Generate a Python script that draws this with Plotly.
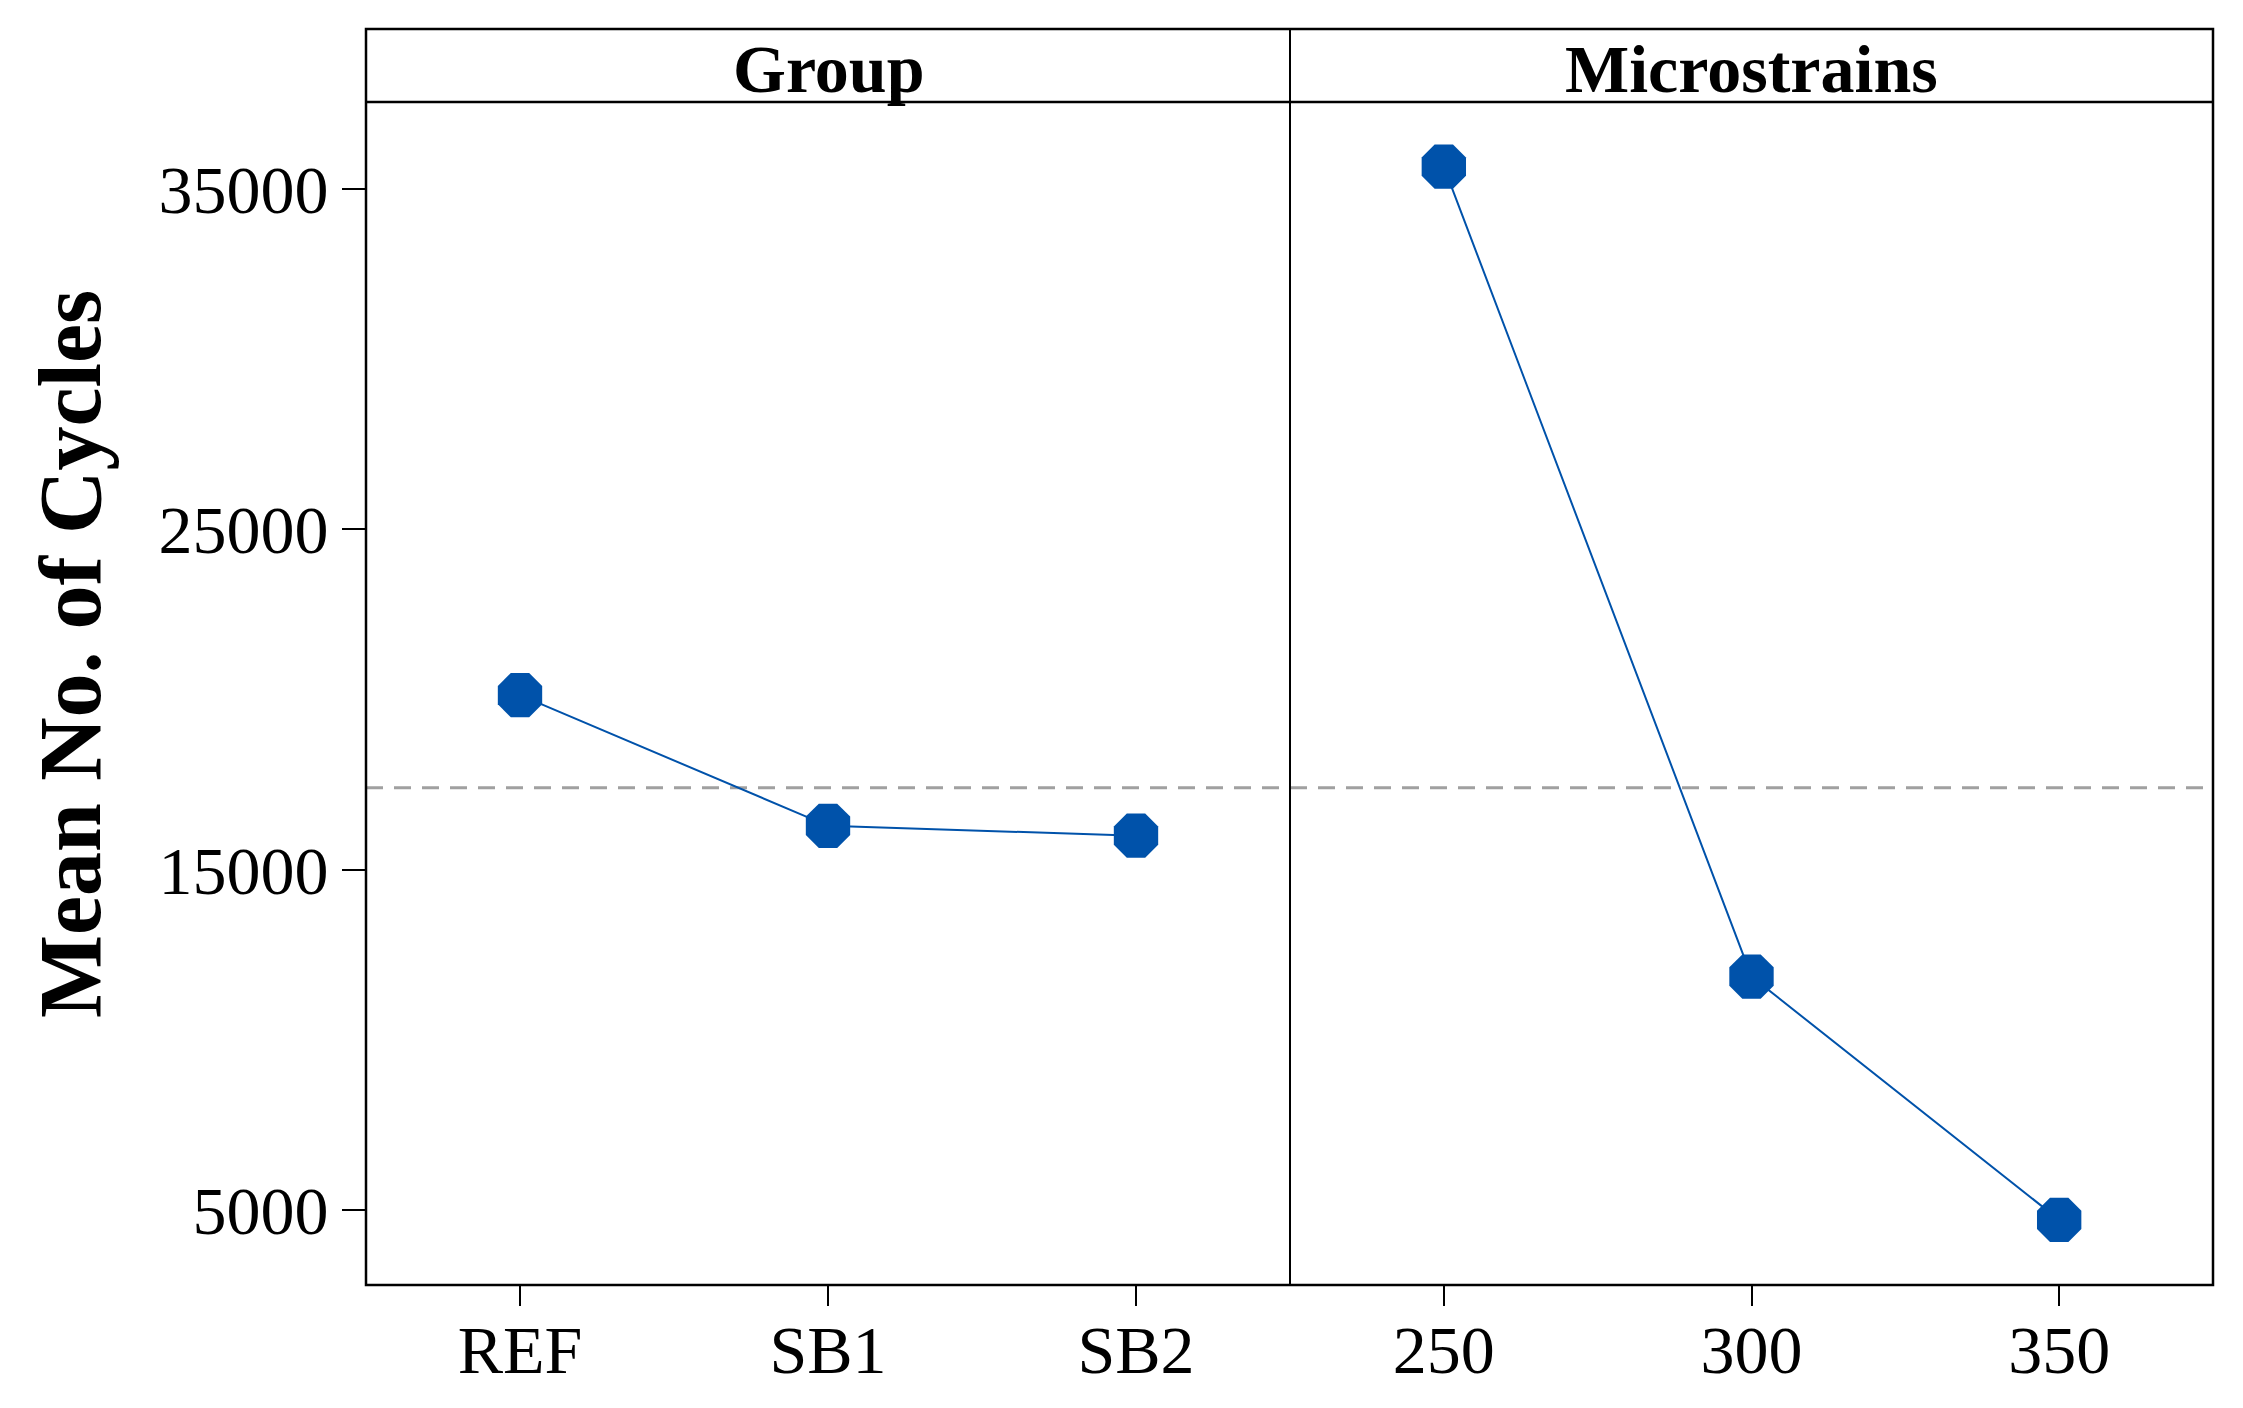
import plotly.graph_objects as go

# ---- data ----
group_levels = ["REF", "SB1", "SB2"]
group_means = [20130, 16290, 16000]
strain_levels = [250, 300, 350]
strain_means = [35660, 11860, 4710]
grand_mean = 17410
y_ticks = [5000, 15000, 25000, 35000]
y_tick_labels = ["5000", "15000", "25000", "35000"]
panel_titles = ["Group", "Microstrains"]
y_title = "Mean No. of Cycles"

# page body has an 8px default margin; compensate so the plot sits where intended
OFF = 8
W, H = 2243 - OFF, 1408 - OFF
L, R, T, B = 366 - OFF, 30, 102 - OFF, 123
plot_w = W - L - R
plot_h = H - T - B
split = (1290 - OFF - L) / plot_w
strip_h = 73 / plot_h

blue = "#0052AA"
serif = "Liberation Serif, Times New Roman, serif"

fig = go.Figure()
fig.add_trace(go.Scatter(
    x=group_levels, y=group_means, xaxis="x", yaxis="y", mode="lines+markers",
    line=dict(color=blue, width=2),
    marker=dict(symbol="octagon", size=48, color=blue, line=dict(width=0)),
    showlegend=False, cliponaxis=False))
fig.add_trace(go.Scatter(
    x=strain_levels, y=strain_means, xaxis="x2", yaxis="y", mode="lines+markers",
    line=dict(color=blue, width=2),
    marker=dict(symbol="octagon", size=48, color=blue, line=dict(width=0)),
    showlegend=False, cliponaxis=False))

tickfont = dict(family=serif, size=68, color="black")
fig.update_layout(
    width=W, height=H,
    margin=dict(l=L, r=R, t=T, b=B),
    paper_bgcolor="white", plot_bgcolor="white",
    xaxis=dict(domain=[0, split], type="category", range=[-0.5, 2.5],
               showgrid=False, zeroline=False, showline=False,
               ticks="outside", ticklen=20, tickwidth=2, tickcolor="black",
               tickfont=tickfont, anchor="y", ticklabelstandoff=-15),
    xaxis2=dict(domain=[split, 1], range=[225, 375], tickvals=strain_levels,
                ticktext=[str(v) for v in strain_levels],
                showgrid=False, zeroline=False, showline=False,
                ticks="outside", ticklen=20, tickwidth=2, tickcolor="black",
                tickfont=tickfont, anchor="y", ticklabelstandoff=-15),
    yaxis=dict(range=[2796, 37560], tickvals=y_ticks, ticktext=y_tick_labels,
               showgrid=False, zeroline=False, showline=False,
               ticks="outside", ticklen=23, tickwidth=2, tickcolor="black",
               tickfont=tickfont, ticklabelstandoff=0),
)

shapes = []
# mean reference line
shapes.append(dict(type="line", xref="paper", yref="y", x0=0, x1=1,
                   y0=grand_mean, y1=grand_mean,
                   line=dict(color="#A0A0A0", width=3, dash="17px,11px"), layer="below"))
# outer frame incl. strip
shapes.append(dict(type="rect", xref="paper", yref="paper", x0=0, x1=1,
                   y0=0, y1=1 + strip_h, line=dict(color="black", width=2.5)))
# strip separator
shapes.append(dict(type="line", xref="paper", yref="paper", x0=0, x1=1,
                   y0=1, y1=1, line=dict(color="black", width=2.5)))
# panel divider
shapes.append(dict(type="line", xref="paper", yref="paper", x0=split, x1=split,
                   y0=0, y1=1 + strip_h, line=dict(color="black", width=2)))
fig.update_layout(shapes=shapes)

annotations = []
for i, title in enumerate(panel_titles):
    cx = split / 2 if i == 0 else (split + 1) / 2
    annotations.append(dict(xref="paper", yref="paper", x=cx, y=1 + strip_h / 2 - 0.003,
                            text="<b>%s</b>" % title, showarrow=False,
                            xanchor="center", yanchor="middle",
                            font=dict(family=serif, size=68, color="black")))
annotations.append(dict(xref="paper", yref="paper", x=(70 - OFF - L) / plot_w,
                        y=(H - B - (654 - OFF)) / plot_h, text="<b>%s</b>" % y_title,
                        textangle=-90, showarrow=False, xanchor="center", yanchor="middle",
                        font=dict(family=serif, size=88, color="black")))
fig.update_layout(annotations=annotations)

fig.write_html("out.html")
